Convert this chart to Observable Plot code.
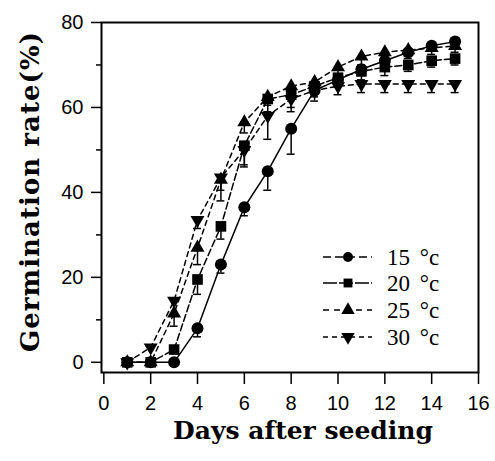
<!DOCTYPE html>
<html><head><meta charset="utf-8">
<script src="https://cdn.jsdelivr.net/npm/d3@7"></script>
<script src="https://cdn.jsdelivr.net/npm/@observablehq/plot@0.6"></script>
<style>
body{margin:0;background:#fff;}
#wrap{position:relative;width:495px;height:461px;}
#wrap svg.overlay{position:absolute;left:0;top:0;pointer-events:none;}
</style></head>
<body><div id="wrap"></div>
<script>
const days = [1,2,3,4,5,6,7,8,9,10,11,12,13,14,15];
const seriesNames = ["15 °c","20 °c","25 °c","30 °c"];
const t15 = [0,0,0,8,23,36.5,45,55,64,66.5,69,71,73,74.5,75.5];
const t20 = [0,0,3,19.5,32,51,62,63,65,67,68.5,69.5,70,71,71.5];
const t25 = [0,0,11.5,27,43,56.5,62.5,65,66,69.5,72,73,73.5,74,74.5];
const t30 = [0,3.5,14.5,33.5,43.5,50,58,62,64,65,65.5,65.5,65.5,65.5,65.5];
const e15 = [0,0,0,2,2,2,4.5,6,1.5,1.5,1.5,1.5,1,1,1];
const e20 = [0,0,0,3.5,3,5,3,3,2,2,2,2,1.5,1.5,1.5];
const e25 = [0,0,3,4,5,2.5,2,2,2,2,2,2,2,1.5,1.5];
const e30 = [0,0,0,2,3,3.5,5.5,3,2.5,2,2,2,2,2,2];
const xTicks = [0,2,4,6,8,10,12,14,16];
const yTicks = [0,20,40,60,80];
const yMinor = [10,30,50,70];

const vals = [t15,t20,t25,t30], errs=[e15,e20,e25,e30];
const symbols = ["circle","square","triangle","triangle"];
const rotates = [0,0,0,180];
const dashes = [null,"7,3","5,4","5,4"];
const legendDashes = ["8,4","14,2","6,5","5,4"];

const rows = [];
vals.forEach((v,i)=>days.forEach((d,j)=>rows.push({series:seriesNames[i], idx:i, day:d, value:v[j], err:errs[i][j]})));

const marks = [];
for (let i=0;i<4;i++){
  const r = rows.filter(d=>d.idx===i);
  marks.push(Plot.line(r,{x:"day",y:"value",stroke:"black",strokeWidth:1.5,strokeDasharray:dashes[i]}));
}
const eb = rows.filter(d=>d.err>0);
marks.push(Plot.ruleX(eb,{x:"day",y1:"value",y2:d=>d.value-d.err,stroke:"black",strokeWidth:1.5}));
marks.push(Plot.ruleY(eb,{y:d=>d.value-d.err,x1:d=>d.day-0.17,x2:d=>d.day+0.17,stroke:"black",strokeWidth:1.5}));
for (let i=0;i<4;i++){
  const r = rows.filter(d=>d.idx===i);
  marks.push(Plot.dot(r,{x:"day",y:"value",symbol:symbols[i],rotate:rotates[i],fill:"black",stroke:"none",r:i<2?6:5.2}));
}

const chart = Plot.plot({
  width:495, height:461,
  marginLeft:101, marginRight:17, marginTop:22, marginBottom:89,
  style:{fontFamily:"'Liberation Sans', Arial, sans-serif", fontSize:"20px", color:"black", background:"white"},
  x:{domain:[-0.1,16]},
  y:{domain:[-2.4,80]},
  marks:[
    Plot.axisX({ticks:xTicks, tickSize:12, tickPadding:11, strokeWidth:1.5, label:null, fontSize:20}),
    Plot.axisY({ticks:yTicks, tickSize:10, tickPadding:8, strokeWidth:1.5, label:null, fontSize:20}),
    Plot.axisY({ticks:yMinor, tickSize:5, text:null, strokeWidth:1.5, label:null}),
    Plot.frame({stroke:"black", strokeWidth:2}),
    ...marks
  ]
});
document.getElementById("wrap").appendChild(chart);

// overlay: titles and legend
const svg = d3.select("#wrap").append("svg").attr("class","overlay").attr("width",495).attr("height",461);
svg.append("text").attr("transform","translate(39,192) rotate(-90)").attr("text-anchor","middle")
  .attr("textLength",320).attr("lengthAdjust","spacing")
  .style("font-family","'DejaVu Serif', serif").style("font-weight","bold").style("font-size","26px").text("Germination rate(%)");
svg.append("text").attr("x",303).attr("y",439).attr("text-anchor","middle")
  .style("font-family","'DejaVu Serif', serif").style("font-weight","bold").style("font-size","25px").text("Days after seeding");

const legendY = [257,283,310,337];
const symGen = [d3.symbolCircle,d3.symbolSquare,d3.symbolTriangle,d3.symbolTriangle];
seriesNames.forEach((name,i)=>{
  const g = svg.append("g").attr("transform",`translate(0,${legendY[i]})`);
  g.append("line").attr("x1",323).attr("x2",372).attr("y1",0).attr("y2",0).attr("stroke","black").attr("stroke-width",1.5).attr("stroke-dasharray",legendDashes[i]);
  g.append("path").attr("d",d3.symbol(symGen[i], Math.PI*25)()).attr("transform",`translate(348,0) rotate(${rotates[i]})`).attr("fill","black");
  g.append("text").attr("x",387).attr("y",0).attr("dy","0.35em").style("font-family","'Liberation Serif', serif").style("font-size","23px").style("word-spacing","4px").text(name);
});
</script></body></html>
